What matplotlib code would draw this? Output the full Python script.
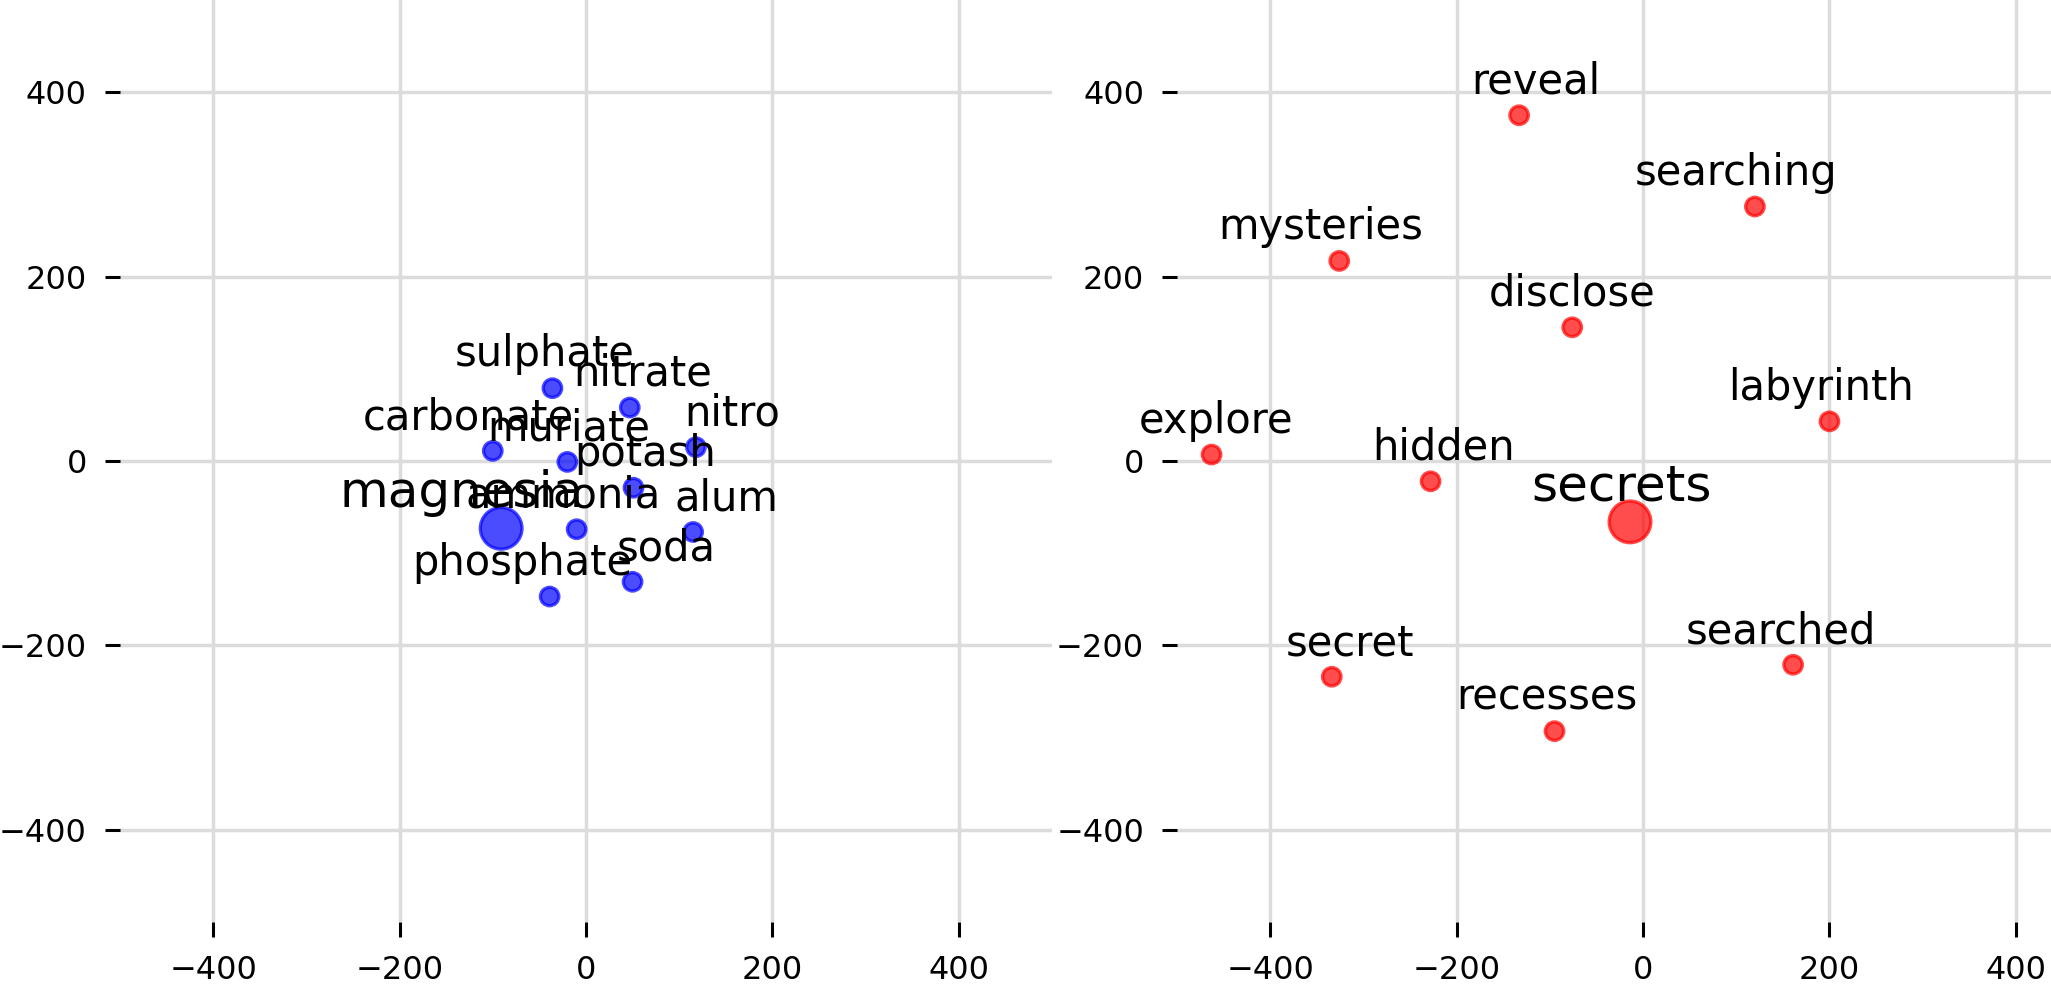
import matplotlib
matplotlib.use("Agg")
import matplotlib.pyplot as plt


# mots voisins de "magnesia" (gauche) et "secrets" (droite)
left_query = "magnesia"
left_words = ["sulphate", "nitrate", "carbonate", "muriate", "nitro", "potash",
              "magnesia", "ammonia", "alum", "soda", "phosphate"]
left_x = [-36, 47, -100, -20, 118, 51, -91, -10, 115, 50, -39]
left_y = [79, 58, 11, -1, 15, -29, -73, -74, -77, -131, -147]
left_label_dx = [-8, 14, -26, 2, 39, 13, -42, -15, 36, 36, -29]

right_query = "secrets"
right_words = ["reveal", "mysteries", "disclose", "searching", "labyrinth", "explore",
               "hidden", "secrets", "secret", "recesses", "searched"]
right_x = [-133, -326, -76, 120, 200, -463, -228, -14, -334, -95, 161]
right_y = [375, 217, 145, 276, 43, 7, -22, -66, -234, -293, -221]
right_label_dx = [18, -20, 0, -20, -9, 5, 14, -9, 20, -8, -13]

TICKS = [-400, -200, 0, 200, 400]
LABEL_DY = 23.5


def draw_panel(ax, words, xs, ys, dxs, query, color):

    sizes = [225 if w == query else 44 for w in words]

    ax.scatter(xs, ys, s=sizes, color=color, alpha=0.7, linewidths=1.2, zorder=2)

    for w, x, y, dx in zip(words, xs, ys, dxs):
        ax.text(
            x + dx, y + LABEL_DY, w,
            ha="center", va="baseline",
            fontsize=18 if w == query else 15,
            zorder=3
        )

    ax.set_xlim(-500, 500)
    ax.set_ylim(-500, 500)
    ax.set_xticks(TICKS)
    ax.set_yticks(TICKS)

    for side in ax.spines.values():
        side.set_visible(False)

    ax.grid(True, color="#dcdcdc", linewidth=1.25)
    ax.set_axisbelow(True)
    ax.tick_params(direction="out", length=5.4, width=1.1, pad=6.5,
                   labelsize=11.5, colors="black")


fig = plt.figure(figsize=(2051 / 200, 986 / 200), dpi=200)

ax_left = fig.add_axes([0.0585, 0.0649, 0.4544, 0.9351])
ax_right = fig.add_axes([0.5739, 0.0649, 0.4544, 0.9351])

draw_panel(ax_left, left_words, left_x, left_y, left_label_dx, left_query, "blue")
draw_panel(ax_right, right_words, right_x, right_y, right_label_dx, right_query, "red")

fig.savefig("out.png", dpi=200)
plt.close(fig)
